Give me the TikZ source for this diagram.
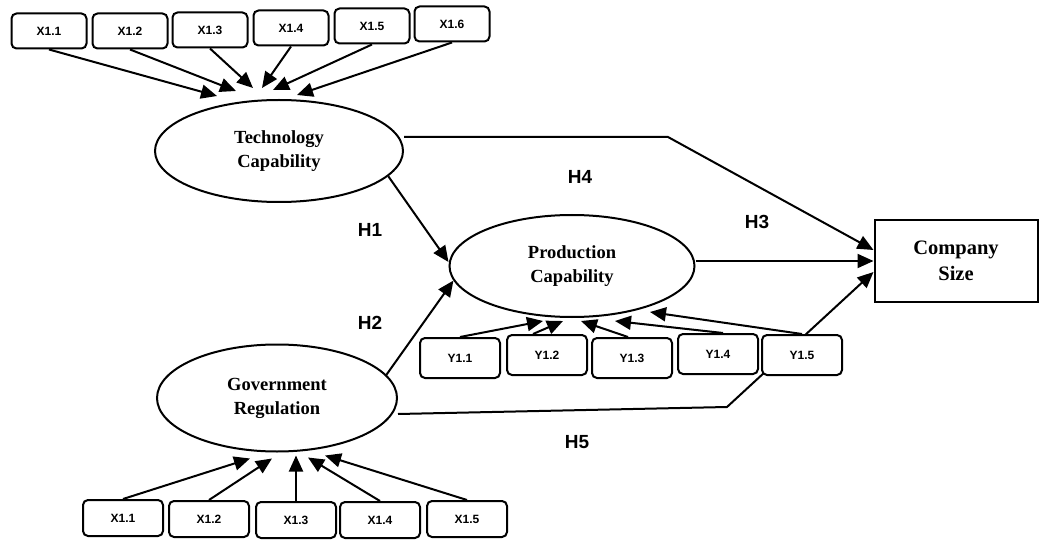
\documentclass[tikz,border=0pt]{standalone}
\usepackage{fontspec}
\setmainfont{Liberation Serif}
\setsansfont{Liberation Sans}
\usetikzlibrary{arrows.meta,shapes.geometric,backgrounds}

\tikzset{
  ind/.style={draw, rounded corners=5pt, line width=2pt, fill=white, minimum width=75pt,
    minimum height=35pt, inner sep=0pt, font=\sffamily\bfseries\fontsize{12}{14}\selectfont},
  latent/.style={ellipse, draw, line width=2pt, fill=white, inner sep=0pt, align=center,
    font=\bfseries\fontsize{18.5}{24}\selectfont},
  arr/.style={line width=2pt, -{Triangle[length=16pt,width=14pt]}},
  hyp/.style={font=\sffamily\bfseries\fontsize{19}{22}\selectfont}
}

\begin{document}
\begin{tikzpicture}[x=1pt,y=-1pt]
  \useasboundingbox (0,0) rectangle (1042,540);
  % constructs
  \node[latent, minimum width=248pt, minimum height=102pt] (tech) at (279,151) {Technology\\Capability};
  \node[latent, minimum width=245pt, minimum height=102pt] (prod) at (572,266) {Production\\Capability};
  \node[latent, minimum width=240pt, minimum height=107pt] (gov) at (277,398) {Government\\Regulation};
  \node[draw, line width=2pt, minimum width=163pt, minimum height=82pt, align=center,
    font=\bfseries\fontsize{20.5}{26}\selectfont] (comp) at (956,261) {Company\\Size};

  % indicators
  \foreach \i/\x/\y in {1/49/31, 2/130/31, 3/210/30, 4/291/28, 5/372/26, 6/452/24}
    \node[ind] (tx\i) at (\x,\y) {X1.\i};
  \foreach \i/\x/\y in {1/460/358, 2/547/355, 3/632/358, 4/718/354, 5/802/355}
    \node[ind, minimum width=80pt, minimum height=40pt] (py\i) at (\x,\y) {Y1.\i};
  \foreach \i/\x/\y in {1/123/518, 2/209/519, 3/296/520, 4/380/520, 5/467/519}
    \node[ind, minimum width=80pt, minimum height=36pt] (gx\i) at (\x,\y) {X1.\i};

  % indicator arrows
  \foreach \i/\dx/\dy in {1/-62pt/3pt, 2/-43pt/8pt, 3/-26pt/11pt, 4/-17pt/11pt, 5/-6pt/9pt, 6/18pt/4pt}
    \draw[arr] (tx\i.south) -- ([xshift=\dx, yshift=\dy]tech.north);
  \foreach \i/\s/\dx/\dy in {1/0pt/-29pt/-3pt, 2/-14pt/-9pt/-3pt, 3/-4pt/9pt/-3pt, 4/5pt/43pt/-3pt, 5/0pt/78pt/6pt}
    \draw[arr] ([xshift=\s]py\i.north) -- ([xshift=\dx, yshift=\dy]prod.south);
  \foreach \i/\dx/\dy in {1/-27pt/-6pt, 2/-5pt/-6pt, 3/19pt/-3pt, 4/31pt/-5pt, 5/48pt/-3pt}
    \draw[arr] (gx\i.north) -- ([xshift=\dx, yshift=\dy]gov.south);

  % hypotheses
  \coordinate (k4) at (668,137);
  \coordinate (k5) at (727,407);
  \draw[arr] (tech.-13) -- ([yshift=4pt]prod.west);
  \draw[arr] (gov.12) -- (prod.187);
  \draw[arr] (prod.east |- comp.west) -- (comp.west);
  \draw[arr] ([yshift=14pt]tech.east) -- (k4) -- ([yshift=11pt]comp.west);
  \begin{scope}[on background layer]
    \draw[arr] ([yshift=-16pt]gov.east) -- (k5) -- ([yshift=-11pt]comp.west);
  \end{scope}

  \node[hyp] (h1) at (370,230) {H1};
  \node[hyp] (h2) at (370,323) {H2};
  \node[hyp] (h3) at (757,222) {H3};
  \node[hyp] (h4) at (580,177) {H4};
  \node[hyp] (h5) at (577,442) {H5};
\end{tikzpicture}
\end{document}
